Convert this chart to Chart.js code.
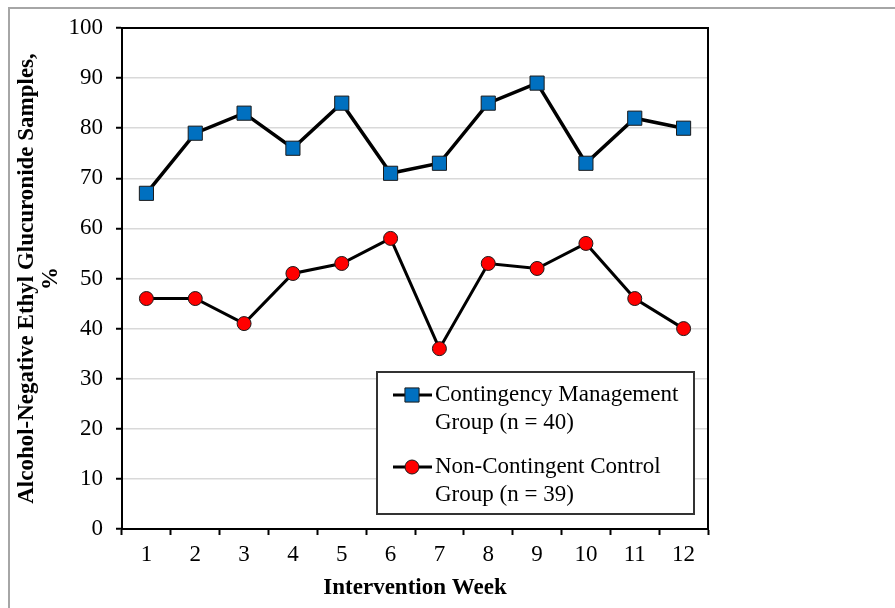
<!DOCTYPE html>
<html>
<head>
<meta charset="utf-8">
<script src="https://cdn.jsdelivr.net/npm/chart.js@4/dist/chart.umd.min.js"></script>
<style>
  html, body { margin: 0; padding: 0; background: #fff; }
  #wrap { position: relative; width: 895px; height: 608px; overflow: hidden; }
  #frame {
    position: absolute; left: 8px; top: 7px; width: 1000px; height: 1000px;
    border: 2px solid #a6a6a6; pointer-events: none;
  }
  canvas { position: absolute; left: 0; top: 0; }
</style>
</head>
<body>
<div id="wrap">
  <div id="frame"></div>
  <canvas id="chart" width="895" height="608"></canvas>
</div>
<script>
const weeks = ['1', '2', '3', '4', '5', '6', '7', '8', '9', '10', '11', '12']
const contingency = [67, 79, 83, 76, 85, 71, 73, 85, 89, 73, 82, 80]
const control = [46, 46, 41, 51, 53, 58, 36, 53, 52, 57, 46, 40]
const yTicks = [0, 10, 20, 30, 40, 50, 60, 70, 80, 90, 100]
const seriesLabels = [
  ['Contingency Management', 'Group (n = 40)'],
  ['Non-Contingent Control', 'Group (n = 39)']
]

const serif = 'Liberation Serif'

// black box round the plot area
const framePlugin = {
  id: 'frame',
  beforeDatasetsDraw(chart) {
    const { ctx, chartArea: a } = chart
    ctx.save()
    ctx.strokeStyle = '#000'
    ctx.lineWidth = 2
    ctx.strokeRect(a.left, a.top, a.right - a.left, a.bottom - a.top)
    ctx.restore()
  }
}

// legend box sitting inside the plot, bottom right
const boxLegend = {
  id: 'boxLegend',
  afterDraw(chart) {
    const { ctx, chartArea: a } = chart
    const w = 317, h = 142
    const x = a.right - 14 - w
    const y = a.bottom - 15 - h
    ctx.save()
    ctx.fillStyle = '#fff'
    ctx.fillRect(x, y, w, h)
    ctx.strokeStyle = '#333'
    ctx.lineWidth = 2
    ctx.strokeRect(x, y, w, h)

    const rows = [y + 23, y + 95]
    chart.data.datasets.forEach((ds, i) => {
      const cy = rows[i]
      ctx.strokeStyle = '#000'
      ctx.lineWidth = 3
      ctx.beginPath()
      ctx.moveTo(x + 16, cy)
      ctx.lineTo(x + 55, cy)
      ctx.stroke()
      ctx.fillStyle = ds.pointBackgroundColor
      ctx.strokeStyle = ds.pointBorderColor
      ctx.lineWidth = ds.pointBorderWidth
      Chart.helpers.drawPoint(ctx, {
        pointStyle: ds.pointStyle,
        radius: ds.pointRadius,
        rotation: 0,
        borderWidth: ds.pointBorderWidth
      }, x + 35, cy)

      ctx.fillStyle = '#000'
      ctx.font = '23px "' + serif + '"'
      ctx.textBaseline = 'middle'
      ctx.textAlign = 'left'
      seriesLabels[i].forEach((t, j) => {
        ctx.fillText(t, x + 58, cy + j * 28)
      })
    })
    ctx.restore()
  }
}

new Chart(document.getElementById('chart'), {
  type: 'line',
  data: {
    labels: weeks,
    datasets: [
      {
        label: seriesLabels[0].join(' '),
        data: contingency,
        borderColor: '#000',
        borderWidth: 3.5,
        pointStyle: 'rect',
        pointRadius: 10,
        pointHoverRadius: 10,
        pointBackgroundColor: '#0070C0',
        pointBorderColor: '#1a1a1a',
        pointBorderWidth: 1,
        tension: 0
      },
      {
        label: seriesLabels[1].join(' '),
        data: control,
        borderColor: '#000',
        borderWidth: 3,
        pointStyle: 'circle',
        pointRadius: 7,
        pointHoverRadius: 7,
        pointBackgroundColor: '#FF0000',
        pointBorderColor: '#1a1a1a',
        pointBorderWidth: 1,
        tension: 0
      }
    ]
  },
  options: {
    responsive: false,
    animation: false,
    layout: {
      padding: { top: 28, right: 187, left: 0, bottom: 0 }
    },
    scales: {
      x: {
        type: 'category',
        offset: true,
        afterFit: (scale) => { scale.height = 79 },
        grid: {
          offset: true,
          drawOnChartArea: false,
          drawTicks: true,
          tickLength: 6,
          tickWidth: 2,
          tickColor: '#000'
        },
        border: { color: '#000', width: 2 },
        ticks: {
          color: '#000',
          padding: 6,
          maxRotation: 0,
          font: { family: serif, size: 23 }
        },
        title: {
          display: true,
          text: 'Intervention Week',
          color: '#000',
          padding: { top: 0, bottom: 7 },
          font: { family: serif, size: 23, weight: 'bold', lineHeight: 1.1 }
        }
      },
      y: {
        min: 0,
        max: 100,
        afterFit: (scale) => { scale.width = 122 },
        afterBuildTicks: (scale) => {
          scale.ticks = yTicks.map((v) => ({ value: v }))
        },
        grid: {
          color: '#d9d9d9',
          lineWidth: 1.5,
          drawTicks: true,
          tickLength: 6,
          tickWidth: 2,
          tickColor: '#000'
        },
        border: { color: '#000', width: 2 },
        ticks: {
          color: '#000',
          padding: 13,
          font: { family: serif, size: 23 }
        },
        title: {
          display: true,
          text: ['Alcohol-Negative Ethyl Glucuronide Samples,', '%'],
          color: '#000',
          padding: { top: 15, bottom: 0 },
          font: { family: serif, size: 23, weight: 'bold', lineHeight: 1.05 }
        }
      }
    },
    plugins: {
      legend: { display: false },
      tooltip: { enabled: false }
    }
  },
  plugins: [framePlugin, boxLegend]
})
</script>
</body>
</html>
